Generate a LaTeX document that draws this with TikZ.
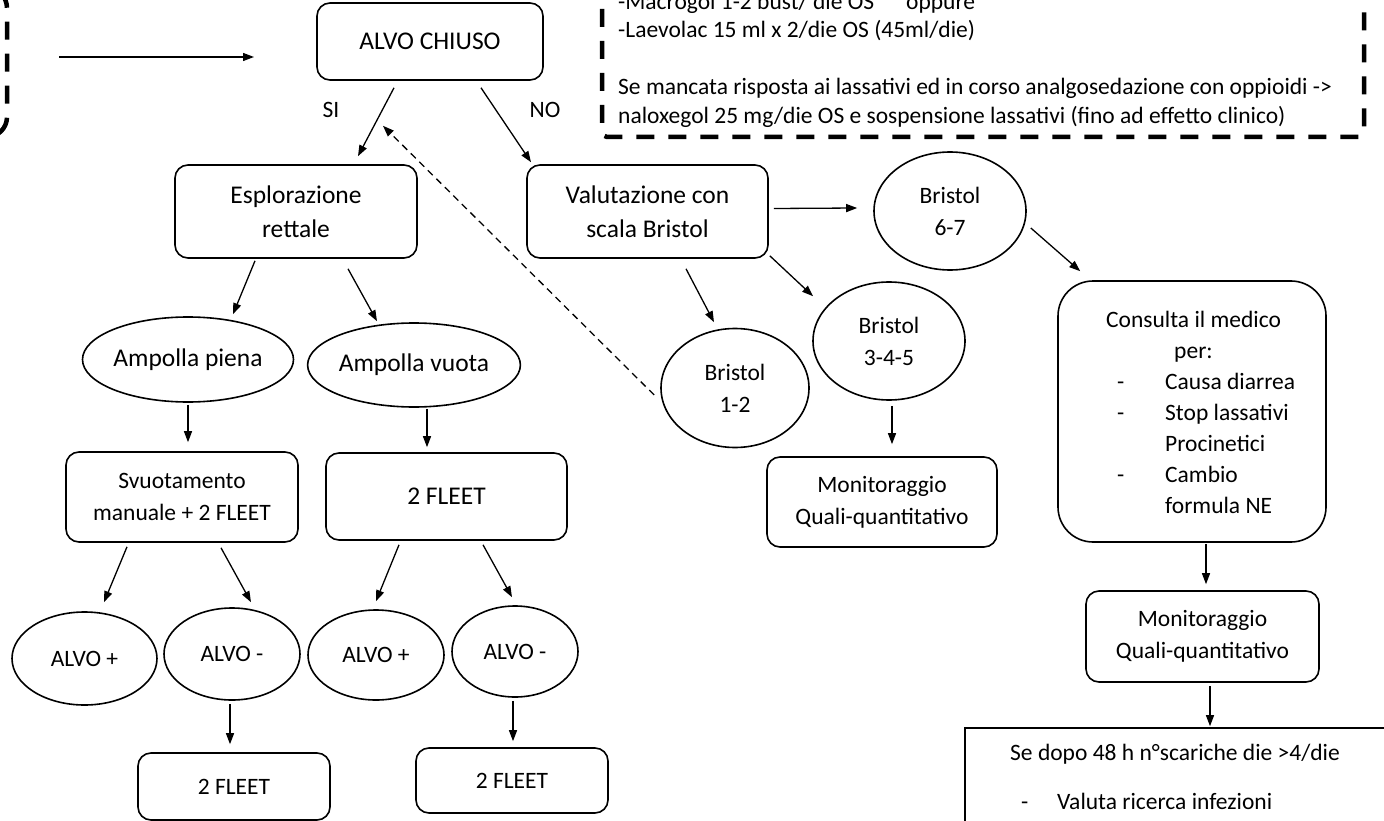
\documentclass[tikz,border=0pt]{standalone}
\usepackage{fontspec}
\setmainfont{Carlito}
\usetikzlibrary{positioning,arrows.meta,shapes.geometric}

\tikzset{
  box/.style={draw, rounded corners=13pt, line width=1.6pt, align=center, inner sep=0pt},
  oval/.style={draw, ellipse, line width=1.6pt, align=center, inner sep=0pt},
  big/.style={font=\fontsize{25.5}{34}\selectfont},
  arr/.style={-{Triangle[length=11pt,width=8pt]}, line width=1.3pt},
  dashbox/.style={line width=4.5pt, dash pattern=on 18pt off 14pt},
  txt/.style={align=left, inner sep=0pt},
}
\newcommand{\dashitem}[2]{\makebox[#1][l]{\hspace*{11pt}-}#2}

\begin{document}
\begin{tikzpicture}[x=1pt, y=-1pt, font=\fontsize{23.5}{32}\selectfont]
        \useasboundingbox (0,0) rectangle (1384,821);
        \clip (0,0) rectangle (1384,821);
        % dashed notes, cut by the frame
        \draw[dashbox, rounded corners=20pt] (-200,-12) rectangle (7,137);
        \draw[dashbox, rounded corners=5pt] (602,-60) rectangle (1364,137);
        \node[txt, anchor=west, font=\fontsize{23.5}{28.5}\selectfont] (note) at (618,60)
            {-Macrogol 1-2 bust/ die OS\hspace*{32pt}oppure\\
             -Laevolac 15 ml x 2/die OS (45ml/die)\\
             \strut\\
             Se mancata risposta ai lassativi ed in corso analgosedazione con oppioidi ->\\
             naloxegol 25 mg/die OS e sospensione lassativi (fino ad effetto clinico)};
        \coordinate (in1) at (59,57);
        \coordinate (in2) at (254,57);
        \draw[arr] (in1) -- (in2);

        % top
        \node[box, big, minimum width=226, minimum height=77] (alvo) at (430,41.5) {ALVO CHIUSO};
        \node (si) at (331,110) {SI};
        \node (no) at (545,110) {NO};
        \node[box, big, minimum width=242, minimum height=93] (esplor) at (296,211.5) {Esplorazione\\rettale};
        \node[box, big, minimum width=241, minimum height=93] (valut) at (647.5,211.5) {Valutazione con\\scala Bristol};

        % Bristol branch
        \node[oval, minimum width=152, minimum height=118] (b67) at (950,211) {Bristol\\6-7};
        \node[oval, minimum width=148, minimum height=119] (b12) at (735,388) {Bristol\\1-2};
        \node[oval, minimum width=152, minimum height=118] (b345) at (889,341) {Bristol\\3-4-5};
        \node[box, minimum width=230, minimum height=90] (monitA) at (882,502) {Monitoraggio\\Quali-quantitativo};
        \node[box, rounded corners=35pt, minimum width=268, minimum height=261] (consulta) at (1192,411.5) {};
        \node[txt, anchor=west, font=\fontsize{23.5}{31}\selectfont] (consultatxt) at (1106,412.5)
            {Consulta il medico\\
             \hspace*{68pt}per:\\
             \dashitem{59pt}{Causa diarrea}\\
             \dashitem{59pt}{Stop lassativi}\\
             \hspace*{59pt}Procinetici\\
             \dashitem{59pt}{Cambio}\\
             \hspace*{59pt}formula NE};
        \node[box, minimum width=233, minimum height=91] (monitB) at (1202.5,636.5) {Monitoraggio\\Quali-quantitativo};
        \node[draw, line width=1.6pt, minimum width=455, minimum height=172] (dopo) at (1192.5,814) {};
        \node[txt, anchor=base west] (dopotxt) at (1010,809)
            {Se dopo 48 h n°scariche die >4/die\\[17pt]
             \dashitem{47pt}{Valuta ricerca infezioni}};

        % rectal branch
        \node[oval, big, minimum width=205, minimum height=85] (piena) at (188,359.5) {Ampolla piena};
        \node[oval, big, minimum width=204, minimum height=84] (vuota) at (414,365) {Ampolla vuota};
        \node[box, minimum width=232, minimum height=90] (svuot) at (182,497) {Svuotamento\\manuale + 2 FLEET};
        \node[box, big, minimum width=241, minimum height=87] (fleet) at (446.5,496.5) {2 FLEET};
        \node[oval, minimum width=145, minimum height=93] (alvoP1) at (84.5,658.5) {ALVO +};
        \node[oval, minimum width=136, minimum height=92] (alvoM1) at (232,654) {ALVO -};
        \node[oval, minimum width=136, minimum height=90] (alvoP2) at (376,655) {ALVO +};
        \node[oval, minimum width=126, minimum height=91] (alvoM2) at (515,651.5) {ALVO -};
        \node[box, minimum width=192, minimum height=67] (fleetA) at (234,786.5) {2 FLEET};
        \node[box, minimum width=192, minimum height=65] (fleetB) at (512,780.5) {2 FLEET};

        % connectors
        \draw[arr] ([shift={(-36,7)}]alvo.south) -- ([shift={(62,-8)}]esplor.north);
        \draw[arr] ([shift={(51,7)}]alvo.south) -- ([shift={(-116.5,-2)}]valut.north);
        \draw[arr, dash pattern=on 7pt off 5pt] ([shift={(-6,7)}]b12.west) -- ([shift={(-47,45)}]alvo.south);
        \draw[arr] ([shift={(5,-3)}]valut.east) -- ([shift={(-16,-3)}]b67.west);
        \draw[arr] ([shift={(4,17)}]b67.east) -- ([shift={(23,-9)}]consulta.north west);
        \draw[arr] ([shift={(38.5,10)}]valut.south) -- ([shift={(-21,-5.5)}]b12.north);
        \draw[arr] ([shift={(1,-3)}]valut.south east) -- ([shift={(-76,15)}]b345.north);
        \draw[arr] ([shift={(3,5)}]b345.south) -- ([shift={(10,-12)}]monitA.north);
        \draw[arr] ([shift={(14,1)}]consulta.south) -- ([shift={(3.5,-6)}]monitB.north);
        \draw[arr] ([shift={(7.5,3)}]monitB.south) -- ([shift={(17.5,-1)}]dopo.north);

        \draw[arr] ([shift={(-41,2)}]esplor.south) -- ([shift={(45,-2)}]piena.north);
        \draw[arr] ([shift={(52,10)}]esplor.south) -- ([shift={(-37,-1)}]vuota.north);
        \draw[arr] ([shift={(0,2)}]piena.south) -- ([shift={(6,-9)}]svuot.north);
        \draw[arr] ([shift={(13,1)}]vuota.south) -- ([shift={(-19.5,-5)}]fleet.north);
        \draw[arr] ([shift={(-55,4)}]svuot.south) -- ([shift={(19.5,-9)}]alvoP1.north);
        \draw[arr] ([shift={(39,5)}]svuot.south) -- ([shift={(19,-5)}]alvoM1.north);
        \draw[arr] ([shift={(-47.5,4)}]fleet.south) -- ([shift={(0,-8)}]alvoP2.north);
        \draw[arr] ([shift={(36.5,4)}]fleet.south) -- ([shift={(-3,-8)}]alvoM2.north);
        \draw[arr] ([shift={(-2,3)}]alvoM1.south) -- ([shift={(-4,-8)}]fleetA.north);
        \draw[arr] ([shift={(-2,3)}]alvoM2.south) -- ([shift={(1,-6)}]fleetB.north);
    \end{tikzpicture}
\end{document}
